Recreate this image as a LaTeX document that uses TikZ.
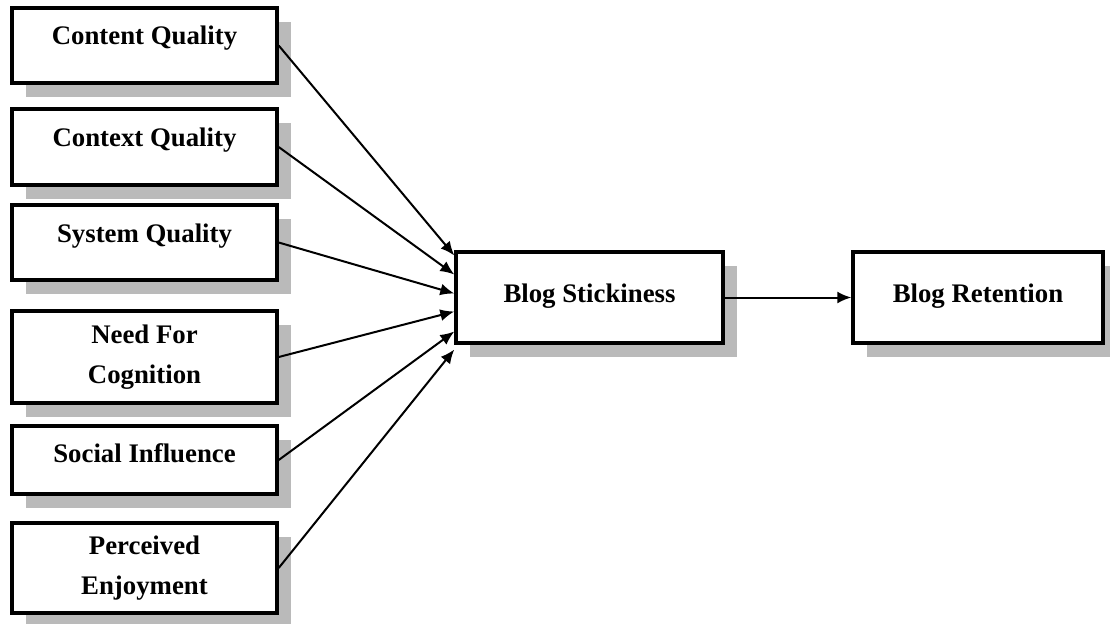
\documentclass[tikz,border=0pt]{standalone}
\usepackage{fontspec}
\setmainfont{Liberation Serif}
\usetikzlibrary{arrows.meta,shadows}
\tikzset{
	factor/.style={draw,line width=1.7pt,fill=white,minimum width=132.5pt,align=center,
		font=\bfseries\fontsize{13.4}{20}\selectfont,
		drop shadow={shadow xshift=7pt,shadow yshift=-7pt,fill=black!27,opacity=1}},
	lift/.style={text height=9.5pt,text depth=#1},
	link/.style={line width=1pt,-{Latex[length=7pt,width=6pt]}}
}
\begin{document}
\begin{tikzpicture}[x=0.5pt,y=-0.5pt]
			\useasboundingbox (0,0) rectangle (1110,623);
			\draw (144.5,45.5) node (cq)[factor,minimum height=37.5pt,lift=11pt]{Content Quality};
			\draw (144.5,147) node (xq)[factor,minimum height=38pt,lift=10pt]{Context Quality};
			\draw (144.5,242.5) node (sq)[factor,minimum height=37.5pt,lift=10pt]{System Quality};
			\draw (144.5,357) node (nc)[factor,minimum height=46pt]{Need For\\Cognition};
			\draw (144.5,460) node (si)[factor,minimum height=34pt,lift=7pt]{Social Influence};
			\draw (144.5,568) node (pe)[factor,minimum height=45pt]{Perceived\\Enjoyment};

			\draw (589.5,297.5) node (bs)[factor,minimum width=133.5pt,minimum height=45.5pt,lift=5pt]{Blog Stickiness};
			\draw (978,297.5) node (br)[factor,minimum width=125pt,minimum height=45.5pt,lift=5pt]{Blog Retention};

			\draw[link] (cq.east)--([yshift=21pt]bs.west);
			\draw[link] (xq.east)--([yshift=11.5pt]bs.west);
			\draw[link] (sq.east)--([yshift=2pt]bs.west);
			\draw[link] (nc.east)--([yshift=-7pt]bs.west);
			\draw[link] (si.east)--([yshift=-17pt]bs.west);
			\draw[link] (pe.east)--([yshift=-26pt]bs.west);
			\draw[link] (bs)--(br);
\end{tikzpicture}
\end{document}
